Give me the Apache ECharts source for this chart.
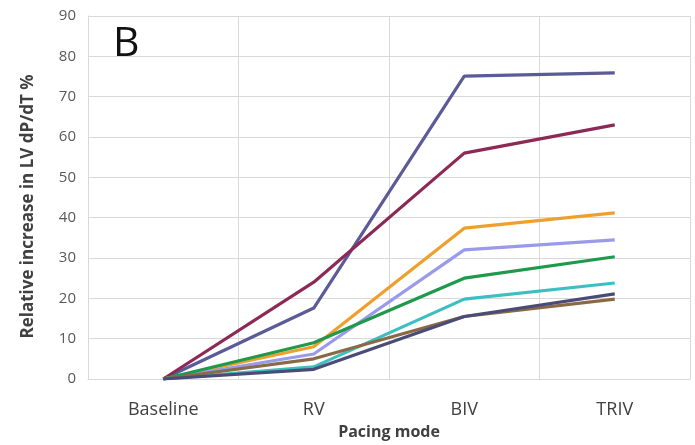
<!DOCTYPE html>
<html>
<head>
<meta charset="utf-8">
<script src="https://cdn.jsdelivr.net/npm/echarts@6/dist/echarts.min.js"></script>
<style>html,body{margin:0;padding:0;background:#fff}#c{width:695px;height:445px}</style>
</head>
<body>
<div id="c"></div>
<script>
var categories = ['Baseline', 'RV', 'BIV', 'TRIV'];
var yTicks = [0, 10, 20, 30, 40, 50, 60, 70, 80, 90];
var s1 = [0, 17.6, 75.1, 75.9];
var s2 = [0, 24, 56, 63];
var s3 = [0, 8, 37.4, 41.2];
var s4 = [0, 6.2, 32, 34.5];
var s5 = [0, 9, 25, 30.3];
var s6 = [0, 3, 19.8, 23.8];
var s7 = [0, 5, 15.5, 19.8];
var s8 = [0, 2.4, 15.5, 21.1];
var seriesData = [s1, s2, s3, s4, s5, s6, s7, s8];
var colors = ['#5b5b97', '#8c2a55', '#efa02c', '#9a9aec', '#1f9a4c', '#3dbfc2', '#8a6a44', '#4b4b78'];

var chart = echarts.init(document.getElementById('c'), null, {renderer: 'canvas'});
var series = seriesData.map(function (d, i) {
  return {
    type: 'line', data: d, symbol: 'none', silent: true,
    lineStyle: {width: 3.2, color: colors[i]},
    itemStyle: {color: colors[i]}
  };
});
chart.setOption({
  animation: false,
  backgroundColor: '#ffffff',
  grid: {left: 88, right: 5, top: 16, bottom: 66, containLabel: false, outerBoundsMode: 'none'},
  graphic: [{
    type: 'text', left: 113, top: 24,
    style: {text: 'B', font: '41px "Open Sans", sans-serif', fill: '#111'}
  }],
  xAxis: {
    type: 'category', data: categories, boundaryGap: true,
    axisLine: {lineStyle: {color: '#d9d9d9', width: 1}},
    axisTick: {show: false},
    axisLabel: {color: '#404040', fontSize: 18, margin: 22, fontFamily: '"Open Sans", sans-serif'},
    splitLine: {show: true, lineStyle: {color: '#d9d9d9', width: 1}},
    name: 'Pacing mode', nameLocation: 'middle', nameGap: 45,
    nameTextStyle: {color: '#404040', fontSize: 16, fontWeight: 'bold', fontFamily: '"Open Sans", sans-serif'}
  },
  yAxis: {
    type: 'value', min: yTicks[0], max: yTicks[yTicks.length - 1], interval: 10,
    axisLine: {show: true, lineStyle: {color: '#d9d9d9', width: 1}},
    axisTick: {show: false},
    axisLabel: {color: '#595959', fontSize: 15, margin: 12, fontFamily: '"Open Sans", sans-serif'},
    splitLine: {show: true, lineStyle: {color: '#d9d9d9', width: 1}},
    name: 'Relative increase in LV dP/dT %', nameLocation: 'middle', nameGap: 51, nameRotate: 90,
    nameTextStyle: {color: '#404040', fontSize: 17, fontWeight: 'bold', fontFamily: '"Open Sans", sans-serif', padding: [0, 18, 0, 0]}
  },
  series: series
});
</script>
</body>
</html>
